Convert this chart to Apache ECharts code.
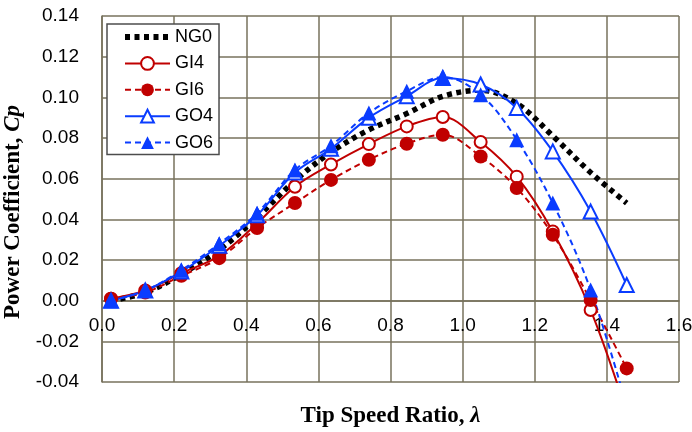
<!DOCTYPE html>
<html>
<head>
<meta charset="utf-8">
<script src="https://cdn.jsdelivr.net/npm/echarts@6/dist/echarts.min.js"></script>
<style>
  html, body { margin: 0; padding: 0; background: #ffffff; }
  #chart { width: 692px; height: 432px; }
</style>
</head>
<body>
<div id="chart"></div>
<script>
// Tip speed ratio (lambda) at each measured operating point
const tipSpeedRatio = [0.025, 0.12, 0.22, 0.325, 0.43, 0.535, 0.635, 0.74, 0.845, 0.945, 1.05, 1.15, 1.25, 1.355, 1.455];

// Power coefficient Cp per configuration
const cpNG0 = [0.000, 0.004, 0.013, 0.025, 0.041, 0.059, 0.073, 0.084, 0.092, 0.1005, 0.1035, 0.097, 0.081, 0.063, 0.048];
const cpGI4 = [0.001, 0.005, 0.0135, 0.022, 0.038, 0.056, 0.067, 0.077, 0.0857, 0.0903, 0.078, 0.061, 0.034, -0.0046, -0.055];
const cpGI6 = [0.001, 0.004, 0.0122, 0.0209, 0.0357, 0.048, 0.0594, 0.0693, 0.0772, 0.0816, 0.0709, 0.0554, 0.0324, 0.0003, -0.0333];
const cpGO4 = [0.000, 0.005, 0.0143, 0.027, 0.042, 0.063, 0.0747, 0.090, 0.1005, 0.1095, 0.1063, 0.0948, 0.0734, 0.0438, 0.0077];
const cpGO6 = [0.000, 0.005, 0.015, 0.028, 0.043, 0.0643, 0.0762, 0.0923, 0.103, 0.110, 0.1013, 0.0792, 0.048, 0.0053, -0.052];

const seriesNames = ['NG0', 'GI4', 'GI6', 'GO4', 'GO6'];

const RED = '#c00000';
const BLUE = '#0a3cff';
const GRID = '#77725c';
const SANS = '"Liberation Sans", Arial, sans-serif';
const SERIF = '"Liberation Serif", "Times New Roman", serif';
const NG0_DASH = [5, 4.5];

const Y_MIN = -0.04, Y_MAX = 0.14;
const GRID_TOP = 16, GRID_BOTTOM = 50, CHART_H = 432;
// lift the x axis (line, labels, title) from the bottom edge up to Cp = 0
const plotH = CHART_H - GRID_TOP - GRID_BOTTOM;
const xAxisLift = -plotH * (0 - Y_MIN) / (Y_MAX - Y_MIN);

const pairs = (ys) => tipSpeedRatio.map((x, i) => [x, ys[i]]);

const chart = echarts.init(document.getElementById('chart'), null, { renderer: 'canvas' });

chart.setOption({
  animation: false,
  backgroundColor: '#ffffff',
  grid: { left: 102, right: 13, top: GRID_TOP, bottom: GRID_BOTTOM, containLabel: false, outerBoundsMode: 'none' },
  legend: {
    orient: 'vertical',
    left: 107,
    top: 24,
    padding: [4, 6, 3, 15],
    itemWidth: 45,
    itemHeight: 16,
    itemGap: 8.4,
    backgroundColor: '#ffffff',
    borderColor: '#4d4d4d',
    borderWidth: 1.5,
    borderRadius: 0,
    // the NG0 key is a thick dotted line with no marker
    data: seriesNames.map((n) => (n === 'NG0'
      ? { name: n, itemStyle: { opacity: 0 }, lineStyle: { width: 6, type: NG0_DASH, cap: 'butt' } }
      : n)),
    textStyle: { fontFamily: SANS, fontSize: 18, color: '#000', lineHeight: 16 }
  },
  xAxis: {
    type: 'value',
    min: 0,
    max: 1.6,
    interval: 0.2,
    offset: xAxisLift,
    name: 'Tip Speed Ratio, {i|λ}',
    nameLocation: 'middle',
    nameGap: 104,
    nameTextStyle: {
      fontFamily: SERIF, fontSize: 23, fontWeight: 'bold', color: '#000',
      rich: { i: { fontFamily: SERIF, fontSize: 23, fontWeight: 'bold', fontStyle: 'italic', color: '#000' } }
    },
    axisLine: { show: true, onZero: false, lineStyle: { color: GRID, width: 1.5 } },
    axisTick: { show: false },
    axisLabel: {
      margin: 16,
      fontFamily: SANS, fontSize: 19, color: '#000',
      formatter: (v) => v.toFixed(1)
    },
    splitLine: { show: true, lineStyle: { color: GRID, width: 1.5 } }
  },
  yAxis: {
    type: 'value',
    min: Y_MIN,
    max: Y_MAX,
    interval: 0.02,
    name: 'Power Coefficient, {i|Cp}',
    nameLocation: 'middle',
    nameGap: 68,
    nameTextStyle: {
      fontFamily: SERIF, fontSize: 23, fontWeight: 'bold', color: '#000',
      padding: [0, 26, 0, 0],
      rich: { i: { fontFamily: SERIF, fontSize: 23, fontWeight: 'bold', fontStyle: 'italic', color: '#000' } }
    },
    axisLine: { show: true, onZero: false, lineStyle: { color: GRID, width: 1.5 } },
    axisTick: { show: false },
    axisLabel: {
      margin: 23,
      fontFamily: SANS, fontSize: 19, color: '#000',
      formatter: (v) => v.toFixed(2)
    },
    splitLine: { show: true, lineStyle: { color: GRID, width: 1.5 } }
  },
  series: [
    {
      name: 'NG0', type: 'line', data: pairs(cpNG0), smooth: 0.35,
      symbol: 'none',
      lineStyle: { color: '#000', width: 5.5, type: NG0_DASH, cap: 'butt' },
      itemStyle: { color: '#000' }
    },
    {
      name: 'GI4', type: 'line', data: pairs(cpGI4), smooth: 0.35,
      symbol: 'circle', symbolSize: 12,
      lineStyle: { color: RED, width: 2 },
      itemStyle: { color: '#ffffff', borderColor: RED, borderWidth: 2 }
    },
    {
      name: 'GI6', type: 'line', data: pairs(cpGI6), smooth: 0.35,
      symbol: 'circle', symbolSize: 14,
      lineStyle: { color: RED, width: 2, type: [6, 4] },
      itemStyle: { color: RED, borderWidth: 0 }
    },
    {
      name: 'GO4', type: 'line', data: pairs(cpGO4), smooth: 0.35,
      symbol: 'triangle', symbolSize: 14,
      lineStyle: { color: BLUE, width: 2 },
      itemStyle: { color: '#ffffff', borderColor: BLUE, borderWidth: 2 }
    },
    {
      name: 'GO6', type: 'line', data: pairs(cpGO6), smooth: 0.35,
      symbol: 'triangle', symbolSize: 15,
      lineStyle: { color: BLUE, width: 2, type: [6, 4] },
      itemStyle: { color: BLUE, borderWidth: 0 }
    }
  ]
});
</script>
</body>
</html>
